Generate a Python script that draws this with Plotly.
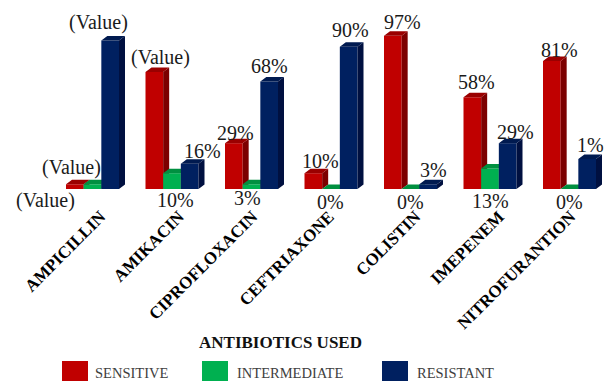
import plotly.graph_objects as go

categories = ["AMPICILLIN", "AMIKACIN", "CIPROFLOXACIN", "CEFTRIAXONE", "COLISTIN", "IMEPENEM", "NITROFURANTION"]
sensitive = [3, 74, 29, 10, 97, 58, 81]
intermediate = [3, 10, 3, 0, 0, 13, 0]
resistant = [94, 16, 68, 90, 3, 29, 19]
sensitive_labels = ["(Value)", "(Value)", "29%", "10%", "97%", "58%", "81%"]
intermediate_labels = ["(Value)", "10%", "3%", "0%", "0%", "13%", "0%"]
resistant_labels = ["(Value)", "16%", "68%", "90%", "3%", "29%", "1%"]

# label nudges in px (right, up) relative to each bar's top
sens_nudge = [(-29, -16), (6, 15), (2, 10), (7, 12), (10, 14), (4, 15), (8, 11)]
int_nudge = [(-21, 17), (3, -27), (-4, -14), (-1, -13), (0, -13), (0, -33), (0, -13)]
res_nudge = [(-12, 18), (13, 13), (0, 16), (2, 17), (5, 14), (8, 11), (3, 14)]
tick_nudge_px = [8, 7, 1, -2, 5, 9, 1]

W, H = 606, 381
BASE_PX = 189
PX_PER_CAT = 79.5
PX_PER_UNIT = 1.58
FIRST_CENTER_PX = 92.5
xrange_ = [-FIRST_CENTER_PX / PX_PER_CAT, (W - FIRST_CENTER_PX) / PX_PER_CAT]
yrange_ = [0, BASE_PX / PX_PER_UNIT]
bar_w = 2 / 9
dx = 6 / PX_PER_CAT
dy = 4.5 / PX_PER_UNIT
SERIF = "Liberation Serif"


def py(px):
    return (BASE_PX - px) / BASE_PX


series = [
    ("SENSITIVE", sensitive, sensitive_labels, sens_nudge, "#C00000", "#9A0000", "#7C0000", "", ""),
    ("INTERMEDIATE", intermediate, intermediate_labels, int_nudge, "#00B050", "#009040", "#007236", "2", "2"),
    ("RESISTANT", resistant, resistant_labels, res_nudge, "#002060", "#001A50", "#001040", "3", "3"),
]

fig = go.Figure()
annotations = []
for s, (name, vals, labels, nudges, front, top, side, xa, ya) in enumerate(series):
    axes = dict(xaxis="x" + xa, yaxis="y" + ya)
    offset = (s - 1.5) * bar_w
    idx = list(range(len(vals)))
    fig.add_trace(go.Bar(x=idx, y=vals, width=bar_w, offset=offset, name=name, marker=dict(color=front, line_width=0),
                         hoverinfo="y", showlegend=False, **axes))
    sx, sy, tx, ty = [], [], [], []
    for i, v in enumerate(vals):
        x1 = i + offset
        x2 = x1 + bar_w
        sx += [x2, x2 + dx, x2 + dx, x2, x2, None]
        sy += [0, dy, v + dy, v, 0, None]
        tx += [x1, x1 + dx, x2 + dx, x2, x1, None]
        ty += [v, v + dy, v + dy, v, v, None]
    for fx, fy, col in ((sx, sy, side), (tx, ty, top)):
        fig.add_trace(go.Scatter(x=fx, y=fy, mode="lines", fill="toself", fillcolor=col, line=dict(width=0, color=col),
                                 hoverinfo="skip", showlegend=False, **axes))
    for i, v in enumerate(vals):
        annotations.append(dict(x=i + offset + bar_w / 2, y=v, xref="x", yref="y", text=labels[i], showarrow=False,
                                xshift=nudges[i][0], yshift=nudges[i][1], font=dict(family=SERIF, size=20, color="#1a1a1a"),
                                xanchor="center", yanchor="middle"))

annotations.append(dict(x=280 / W, y=py(342), xref="paper", yref="paper", text="<b>ANTIBIOTICS USED</b>", showarrow=False,
                        font=dict(family=SERIF, size=17, color="#111111"), xanchor="center", yanchor="middle"))
shapes = []
for (name, *_rest), x0, col, tx in zip(series, [62, 202, 382], ["#C00000", "#00B050", "#002060"], [93, 235, 415]):
    shapes.append(dict(type="rect", xref="paper", yref="paper", x0=x0 / W, x1=(x0 + 26) / W, y0=py(381), y1=py(361),
                       fillcolor=col, line_width=0))
    annotations.append(dict(x=tx / W, y=py(373), xref="paper", yref="paper", text=name, showarrow=False,
                            font=dict(family=SERIF, size=14.5, color="#404040"), xanchor="left", yanchor="middle"))

common = dict(range=xrange_, showgrid=False, zeroline=False, fixedrange=True)
fig.update_layout(
    width=W, height=H, autosize=False, margin=dict(l=0, r=0, t=0, b=H - BASE_PX),
    paper_bgcolor="white", plot_bgcolor="white", showlegend=False, annotations=annotations, shapes=shapes,
    xaxis=dict(**common, tickmode="array", tickvals=[i + tick_nudge_px[i] / PX_PER_CAT for i in range(len(categories))],
               ticktext=categories, tickangle=-45,
               ticks="outside", ticklen=10, tickcolor="rgba(0,0,0,0)", showline=False,
               tickfont=dict(family=SERIF, size=17, color="#000000", weight="bold")),
    xaxis2=dict(**common, overlaying="x", visible=False),
    xaxis3=dict(**common, overlaying="x", visible=False),
    yaxis=dict(range=yrange_, visible=False, fixedrange=True),
    yaxis2=dict(range=yrange_, visible=False, overlaying="y", fixedrange=True),
    yaxis3=dict(range=yrange_, visible=False, overlaying="y", fixedrange=True),
)
fig.write_html("out.html", config=dict(displayModeBar=False),
               post_script="document.body.style.margin='0';")
